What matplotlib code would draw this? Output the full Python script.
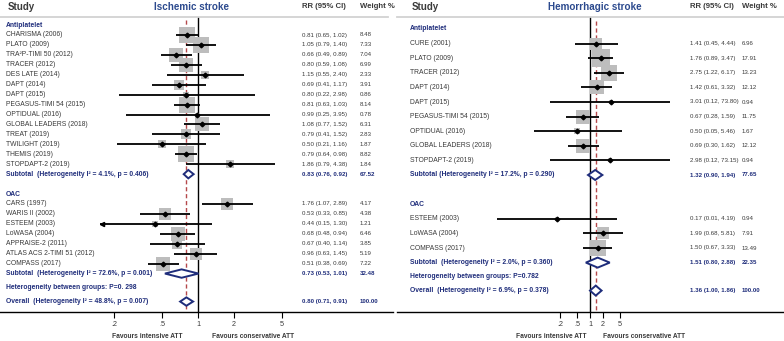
import numpy as np
import matplotlib
matplotlib.use('Agg')
import matplotlib.pyplot as plt
from matplotlib.lines import Line2D
from matplotlib.patches import Polygon
from matplotlib.transforms import blended_transform_factory

plt.rcParams['font.family'] = ['Liberation Sans', 'DejaVu Sans']

# ---------------- Ischemic stroke ----------------
isch_ap_names = ['CHARISMA (2006)', 'PLATO (2009)', 'TRA\u00b2P-TIMI 50 (2012)', 'TRACER (2012)',
                 'DES LATE (2014)', 'DAPT (2014)', 'DAPT (2015)', 'PEGASUS-TIMI 54 (2015)',
                 'OPTIDUAL (2016)', 'GLOBAL LEADERS (2018)', 'TREAT (2019)', 'TWILIGHT (2019)',
                 'THEMIS (2019)', 'STOPDAPT-2 (2019)']
isch_ap_rr = [0.81, 1.05, 0.66, 0.80, 1.15, 0.69, 0.80, 0.81, 0.99, 1.08, 0.79, 0.50, 0.79, 1.86]
isch_ap_lo = [0.65, 0.79, 0.49, 0.59, 0.55, 0.41, 0.22, 0.63, 0.25, 0.77, 0.41, 0.21, 0.64, 0.79]
isch_ap_hi = [1.02, 1.40, 0.89, 1.08, 2.40, 1.17, 2.98, 1.03, 3.95, 1.52, 1.52, 1.16, 0.98, 4.38]
isch_ap_w = [8.48, 7.33, 7.04, 6.99, 2.33, 3.91, 0.86, 8.14, 0.78, 6.31, 2.83, 1.87, 8.82, 1.84]

isch_oac_names = ['CARS (1997)', 'WARIS II (2002)', 'ESTEEM (2003)', 'LoWASA (2004)',
                  'APPRAISE-2 (2011)', 'ATLAS ACS 2-TIMI 51 (2012)', 'COMPASS (2017)']
isch_oac_rr = [1.76, 0.53, 0.44, 0.68, 0.67, 0.96, 0.51]
isch_oac_lo = [1.07, 0.33, 0.15, 0.48, 0.40, 0.63, 0.38]
isch_oac_hi = [2.89, 0.85, 1.30, 0.94, 1.14, 1.45, 0.69]
isch_oac_w = [4.17, 4.38, 1.21, 6.46, 3.85, 5.19, 7.22]

isch_sub_rr = [0.83, 0.73]
isch_sub_lo = [0.76, 0.53]
isch_sub_hi = [0.92, 1.01]
isch_sub_w = [67.52, 32.48]
isch_sub_text = ['Subtotal  (Heterogeneity I\u00b2 = 4.1%, p = 0.406)',
                 'Subtotal  (Heterogeneity I\u00b2 = 72.6%, p = 0.001)']
isch_overall = [0.80, 0.71, 0.91, 100.00]
isch_overall_text = 'Overall  (Heterogeneity I\u00b2 = 48.8%, p = 0.007)'
isch_between = 'Heterogeneity between groups: P=0. 298'

# ---------------- Hemorrhagic stroke ----------------
hem_ap_names = ['CURE (2001)', 'PLATO (2009)', 'TRACER (2012)', 'DAPT (2014)', 'DAPT (2015)',
                'PEGASUS-TIMI 54 (2015)', 'OPTIDUAL (2016)', 'GLOBAL LEADERS (2018)',
                'STOPDAPT-2 (2019)']
hem_ap_rr = [1.41, 1.76, 2.75, 1.42, 3.01, 0.67, 0.50, 0.69, 2.98]
hem_ap_lo = [0.45, 0.89, 1.22, 0.61, 0.12, 0.28, 0.05, 0.30, 0.12]
hem_ap_hi = [4.44, 3.47, 6.17, 3.32, 73.80, 1.59, 5.46, 1.62, 73.15]
hem_ap_w = [6.96, 17.91, 13.23, 12.12, 0.94, 11.75, 1.67, 12.12, 0.94]

hem_oac_names = ['ESTEEM (2003)', 'LoWASA (2004)', 'COMPASS (2017)']
hem_oac_rr = [0.17, 1.99, 1.50]
hem_oac_lo = [0.007, 0.68, 0.67]
hem_oac_hi = [4.19, 5.81, 3.33]
hem_oac_w = [0.94, 7.91, 13.49]

hem_sub_rr = [1.32, 1.51]
hem_sub_lo = [0.90, 0.80]
hem_sub_hi = [1.94, 2.88]
hem_sub_w = [77.65, 22.35]
hem_sub_text = ['Subtotal (Heterogeneity I\u00b2 = 17.2%, p = 0.290)',
                'Subtotal  (Heterogeneity I\u00b2 = 2.0%, p = 0.360)']
hem_overall = [1.36, 1.00, 1.86, 100.00]
hem_overall_text = 'Overall  (Heterogeneity I\u00b2 = 6.9%, p = 0.378)'
hem_between = 'Heterogeneity between groups: P=0.782'

groups = ['Antiplatelet', 'OAC']
ticks = [0.2, 0.5, 1, 2, 5]
tick_labels = ['.2', '.5', '1', '2', '5']

W, H = 784, 341
NAVY = '#1f2d7b'
TXT = '#3a3a3a'
GREY = '#bdbdbd'
RED = '#b5484b'

fig = plt.figure(figsize=(W / 100, H / 100), dpi=100)


def fx(px):
    return px / W


def fy(py):
    return 1 - py / H


def panel(title, data, subs, overall, overall_text, between, lay):
    # forest axes, log scale; lay gives pixel geometry of the panel
    x0, x1 = lay['ax_px']
    top, bot = 17, 312
    ax = fig.add_axes([fx(x0), fy(bot), (x1 - x0) / W, (bot - top) / H])
    ax.set_xscale('log')
    xmin = 10 ** ((x0 - lay['one_px']) / lay['dec_px'])
    xmax = 10 ** ((x1 - lay['one_px']) / lay['dec_px'])
    ax.set_xlim(xmin, xmax)
    r0, pitch = lay['row0'], lay['pitch']
    ylo, yhi = (top - r0) / pitch, (bot - r0) / pitch
    ax.set_ylim(yhi, ylo)
    for s in ax.spines.values():
        s.set_visible(False)
    ax.set_yticks([])
    ax.set_xticks(ticks)
    ax.set_xticklabels(tick_labels)
    ax.minorticks_off()
    ax.tick_params(axis='x', direction='out', length=4, width=0.8, labelsize=5.2,
                   pad=2.5, labelcolor=TXT)

    tr = blended_transform_factory(fig.transFigure, ax.transData)
    nx, rx, wx = fx(lay['name_x']), fx(lay['rr_x']), fx(lay['w_x'])
    sq_max = lay['sq_px'] * 0.72
    dh = lay['dia_px'] / pitch

    def diamond(rr, lo, hi, y):
        ax.add_patch(Polygon([(lo, y), (rr, y - dh), (hi, y), (rr, y + dh)], closed=True,
                             facecolor='white', edgecolor=NAVY, lw=1.4, zorder=5))

    row = 0
    sub_rows = []
    wmax = max(max(g[4]) for g in data)
    for gi, (names, rr, lo, hi, w) in enumerate(data):
        ax.text(nx, row, groups[gi], transform=tr, ha='left', va='center', fontsize=4.9,
                color=NAVY, fontweight='bold')
        for j in range(len(names)):
            y = row + 1 + j
            ax.scatter([rr[j]], [y], marker='s', s=(sq_max * np.sqrt(w[j] / wmax)) ** 2,
                       color=GREY, lw=0, zorder=2)
            left = max(lo[j], xmin)
            ax.plot([left, hi[j]], [y, y], color='black', lw=1.3, zorder=3,
                    solid_capstyle='butt')
            if lo[j] < xmin:
                ax.plot([xmin * 1.04], [y], marker='<', ms=3, color='black', zorder=4)
            ax.plot([rr[j]], [y], marker='D', ms=2.4, color='black', zorder=4)
            ax.text(nx, y, names[j], transform=tr, ha='left', va='center', fontsize=4.9,
                    color=TXT)
            ax.text(rx, y, f'{rr[j]:.2f} ({lo[j]:.2f}, {hi[j]:.2f})', transform=tr,
                    ha='left', va='center', fontsize=4.4, color=TXT)
            ax.text(wx, y, f'{w[j]:.2f}', transform=tr, ha='left', va='center',
                    fontsize=4.4, color=TXT)
        y = row + len(names) + 1
        sub_rows.append(y)
        row = y + 2

    s_rr, s_lo, s_hi, s_w, s_txt = subs
    for k, y in enumerate(sub_rows):
        diamond(s_rr[k], s_lo[k], s_hi[k], y)
        ax.text(nx, y, s_txt[k], transform=tr, ha='left', va='center', fontsize=4.9,
                color=NAVY, fontweight='bold')
        ax.text(rx, y, f'{s_rr[k]:.2f} ({s_lo[k]:.2f}, {s_hi[k]:.2f})', transform=tr,
                ha='left', va='center', fontsize=4.4, color=NAVY, fontweight='bold')
        ax.text(wx, y, f'{s_w[k]:.2f}', transform=tr, ha='left', va='center',
                fontsize=4.4, color=NAVY, fontweight='bold')

    y_het = sub_rows[-1] + 14 / pitch
    y_ov = y_het + 14 / pitch
    ax.text(nx, y_het, between, transform=tr, ha='left', va='center', fontsize=4.9,
            color=NAVY, fontweight='bold')
    o_rr, o_lo, o_hi, o_w = overall
    diamond(o_rr, o_lo, o_hi, y_ov)
    ax.text(nx, y_ov, overall_text, transform=tr, ha='left', va='center', fontsize=4.9,
            color=NAVY, fontweight='bold')
    ax.text(rx, y_ov, f'{o_rr:.2f} ({o_lo:.2f}, {o_hi:.2f})', transform=tr,
            ha='left', va='center', fontsize=4.4, color=NAVY, fontweight='bold')
    ax.text(wx, y_ov, f'{o_w:.2f}', transform=tr, ha='left', va='center',
            fontsize=4.4, color=NAVY, fontweight='bold')

    ax.axvline(1, color='black', lw=1.0, zorder=1)
    ax.vlines(o_rr, ylo + 0.3, yhi, colors=RED, linestyles=(0, (3, 2)), lw=1.0, zorder=1)

    # headers and frame lines
    fig.text(fx(lay['name_x'] + 2), fy(7), 'Study', ha='left', va='center', fontsize=7.0,
             fontweight='bold', color=TXT)
    fig.text(fx(lay['rr_x']), fy(7), 'RR (95% CI)', ha='left', va='center', fontsize=5.6,
             fontweight='bold', color=TXT)
    fig.text(fx(lay['w_x']), fy(7), 'Weight %', ha='left', va='center', fontsize=5.6,
             fontweight='bold', color=TXT)
    fig.text(fx(lay['title_x']), fy(7), title, ha='center', va='center', fontsize=7.1,
             color='#2c4a8e', fontweight='bold')
    h0, h1 = lay['head_line']
    fig.add_artist(Line2D([fx(h0), fx(h1)], [fy(17), fy(17)], color='#d2d2d2', lw=1.3))
    b0, b1 = lay['base_line']
    fig.add_artist(Line2D([fx(b0), fx(b1)], [fy(bot), fy(bot)], color='black', lw=1.0))
    fig.text(fx(lay['fav'][0]), fy(337), 'Favours intensive ATT', ha='right', va='center',
             fontsize=4.8, fontweight='bold', color=TXT)
    fig.text(fx(lay['fav'][1]), fy(337), 'Favours conservative ATT', ha='left', va='center',
             fontsize=4.8, fontweight='bold', color=TXT)


panel('Ischemic stroke',
      [(isch_ap_names, isch_ap_rr, isch_ap_lo, isch_ap_hi, isch_ap_w),
       (isch_oac_names, isch_oac_rr, isch_oac_lo, isch_oac_hi, isch_oac_w)],
      (isch_sub_rr, isch_sub_lo, isch_sub_hi, isch_sub_w, isch_sub_text),
      isch_overall, isch_overall_text, isch_between,
      dict(ax_px=(100, 290), one_px=198, dec_px=120, row0=25.06, pitch=9.94,
           name_x=6, rr_x=302, w_x=360, sq_px=16.5, dia_px=4.2, title_x=191,
           head_line=(0, 388), base_line=(0, 393), fav=(182, 212)))

panel('Hemorrhagic stroke',
      [(hem_ap_names, hem_ap_rr, hem_ap_lo, hem_ap_hi, hem_ap_w),
       (hem_oac_names, hem_oac_rr, hem_oac_lo, hem_oac_hi, hem_oac_w)],
      (hem_sub_rr, hem_sub_lo, hem_sub_hi, hem_sub_w, hem_sub_text),
      hem_overall, hem_overall_text, hem_between,
      dict(ax_px=(480, 700), one_px=590, dec_px=43, row0=29, pitch=14.6,
           name_x=410, rr_x=690, w_x=742, sq_px=18, dia_px=5, title_x=595,
           head_line=(397, 784), base_line=(397, 784), fav=(587, 603)))

fig.savefig('out.png', dpi=100)
